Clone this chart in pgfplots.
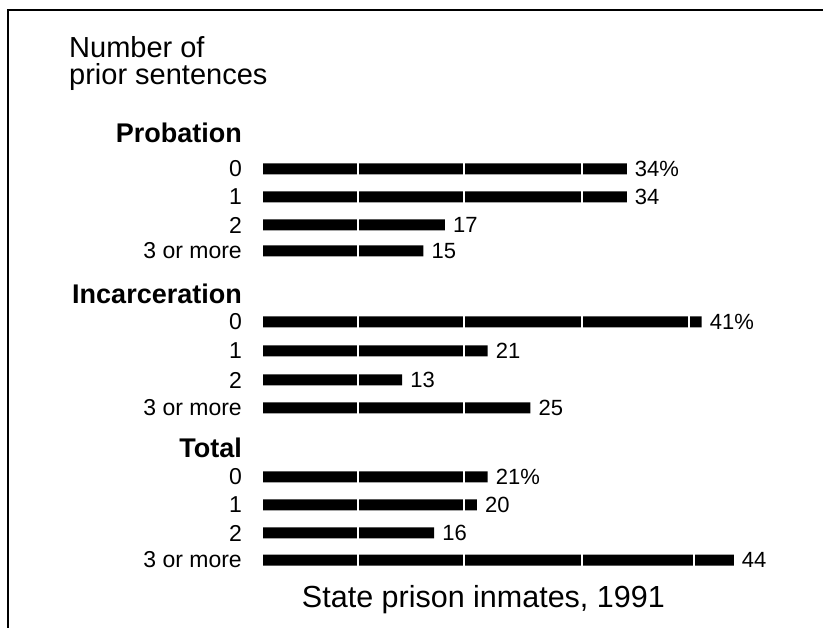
\documentclass[border=0pt]{standalone}
\usepackage{pgfplots}
\pgfplotsset{compat=1.18}
\usepackage{fontspec}
\setmainfont{Liberation Sans}
\newcommand{\lab}{\fontsize{23}{27}\selectfont}
\newcommand{\val}{\fontsize{22}{26}\selectfont}
\begin{document}
\begin{tikzpicture}
\useasboundingbox (0pt,0pt) rectangle (823pt,-628pt);
\fill[white] (0pt,0pt) rectangle (823pt,-628pt);
\draw[line width=2pt] (8pt,-628pt) -- (8pt,-10pt) -- (823pt,-10pt);
\node[anchor=base west, font=\fontsize{29}{32}\selectfont, inner sep=0pt] at (69pt,-58pt) {Number of};
\node[anchor=base west, font=\fontsize{29}{32}\selectfont, inner sep=0pt] at (69pt,-85pt) {prior sentences};
\node[anchor=base east, font=\fontsize{27}{30}\bfseries, inner sep=0pt] at (242pt,-143pt) {Probation};
\node[anchor=base east, font=\fontsize{27}{30}\bfseries, inner sep=0pt] at (242pt,-304pt) {Incarceration};
\node[anchor=base east, font=\fontsize{27}{30}\bfseries, inner sep=0pt] at (242pt,-458pt) {Total};
\begin{axis}[
  at={(263pt,-628pt)}, anchor=south west,
  width=560pt, height=628pt, scale only axis,
  xmin=0, xmax=52.34, ymin=-628, ymax=0,
  axis line style={draw=none},
  xtick=\empty,
  ytick={-169,-197,-225,-251,-322,-351,-380,-408,-477,-505,-533,-560},
  yticklabels={0,1,2,3 or more,0,1,2,3 or more,0,1,2,3 or more},
  major tick length=0pt,
  yticklabel style={font=\lab, anchor=east, inner sep=0pt, xshift=-21pt},
  clip=false,
  title={State prison inmates, 1991},
  title style={at={(axis cs:20.6,-614)}, anchor=base, inner sep=0pt, font=\fontsize{30.5}{34}\selectfont},
]
\addplot[xbar, bar width=11pt, fill=black, draw=none,
  point meta=explicit symbolic,
  nodes near coords,
  every node near coord/.append style={anchor=west, font=\val, inner sep=1pt, xshift=7pt}]
  coordinates {
  (34,-169) [34\%]
  (34,-197) [34]
  (17,-225) [17]
  (15,-251) [15]
  (41,-322) [41\%]
  (21,-351) [21]
  (13,-380) [13]
  (25,-408) [25]
  (21,-477) [21\%]
  (20,-505) [20]
  (16,-533) [16]
  (44,-560) [44]
  };
\addplot[only marks, mark=|, mark size=7pt, mark options={draw=white, line width=2.5pt}]
  coordinates {
  (8.9,-169) (18.8,-169) (29.8,-169)
  (8.9,-197) (18.8,-197) (29.8,-197)
  (8.9,-225)
  (8.9,-251)
  (8.9,-322) (18.8,-322) (29.8,-322) (39.8,-322)
  (8.9,-351) (18.8,-351)
  (8.9,-380)
  (8.9,-408) (18.8,-408)
  (8.9,-477) (18.8,-477)
  (8.9,-505) (18.8,-505)
  (8.9,-533)
  (8.9,-560) (18.8,-560) (29.8,-560) (40.3,-560)
  };
\end{axis}
\end{tikzpicture}
\end{document}
